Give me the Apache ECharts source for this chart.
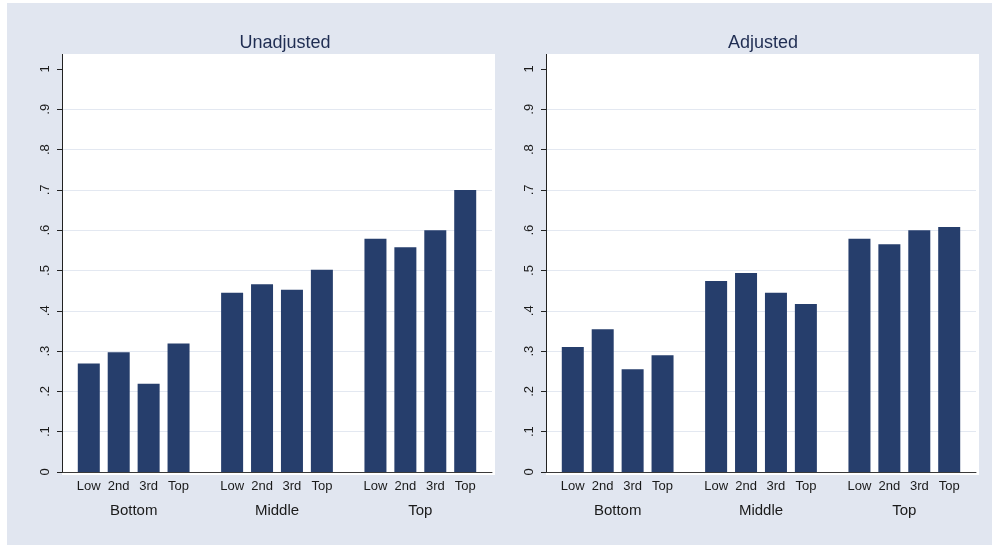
<!DOCTYPE html>
<html>
<head>
<meta charset="utf-8">
<script src="https://cdn.jsdelivr.net/npm/echarts@6/dist/echarts.min.js"></script>
<style>
  html, body { margin: 0; padding: 0; background: #ffffff; }
  #chart { width: 992px; height: 546px; }
</style>
</head>
<body>
<div id="chart"></div>
<script>
var groups = ['Bottom', 'Middle', 'Top'];
var quartiles = ['Low', '2nd', '3rd', 'Top'];
var yTicks = [0, 0.1, 0.2, 0.3, 0.4, 0.5, 0.6, 0.7, 0.8, 0.9, 1];

// values per quartile, one entry per group (Bottom, Middle, Top)
var unadjLow = [0.269, 0.445, 0.579];
var unadj2nd = [0.297, 0.466, 0.558];
var unadj3rd = [0.219, 0.452, 0.600];
var unadjTop = [0.319, 0.502, 0.700];

var adjLow = [0.310, 0.474, 0.579];
var adj2nd = [0.354, 0.494, 0.565];
var adj3rd = [0.255, 0.445, 0.600];
var adjTop = [0.290, 0.417, 0.608];

var unadjusted = [unadjLow, unadj2nd, unadj3rd, unadjTop];
var adjusted = [adjLow, adj2nd, adj3rd, adjTop];

var chart = echarts.init(document.getElementById('chart'));

var barColor = '#263e6c';
var textFont = 'Liberation Sans, Arial, sans-serif';

function tickLabel(v) {
    if (v === 0) return '0';
    if (Math.abs(v - 1) < 1e-9) return '1';
    return '.' + Math.round(v * 10);
}

function makeSeries(panel, idx) {
    return quartiles.map(function (q, i) {
        return {
            name: q,
            type: 'bar',
            xAxisIndex: idx,
            yAxisIndex: idx,
            barWidth: 22,
            barGap: '36%',
            itemStyle: { color: barColor },
            label: {
                show: true,
                position: 'insideBottom',
                distance: 0,
                offset: [0, 21],
                formatter: q,
                color: '#1a1a1a',
                fontSize: 13,
                fontFamily: textFont
            },
            emphasis: { disabled: true },
            data: panel[i]
        };
    });
}

function xAxisFor(idx) {
    return {
        type: 'category',
        gridIndex: idx,
        data: groups,
        axisLine: { lineStyle: { color: '#3a3a3a', width: 1 } },
        axisTick: { show: false },
        axisLabel: { margin: 31, fontSize: 15, color: '#1a1a1a', fontFamily: textFont }
    };
}

function yAxisFor(idx) {
    return {
        type: 'value',
        gridIndex: idx,
        min: yTicks[0],
        max: yTicks[yTicks.length - 1],
        interval: 0.1,
        axisLine: { show: false },
        axisTick: { show: true, length: 5, lineStyle: { color: '#222' } },
        axisLabel: {
            rotate: 90,
            margin: 10,
            fontSize: 13,
            color: '#1a1a1a',
            fontFamily: textFont,
            formatter: tickLabel
        },
        splitLine: {
            show: true,
            showMinLine: false,
            showMaxLine: false,
            lineStyle: { color: '#e3e8f1', width: 1 }
        }
    };
}

var option = {
    animation: false,
    graphic: [
        { type: 'rect', z: -10, shape: { x: 7, y: 3, width: 985, height: 542 }, style: { fill: '#e1e6f0' } },
        { type: 'rect', z: -9, shape: { x: 62, y: 54, width: 433, height: 421 }, style: { fill: '#ffffff' } },
        { type: 'rect', z: -9, shape: { x: 546, y: 54, width: 433, height: 421 }, style: { fill: '#ffffff' } },
        { type: 'line', z: 10, shape: { x1: 62.5, y1: 54, x2: 62.5, y2: 472 }, style: { stroke: '#222', lineWidth: 1 } },
        { type: 'line', z: 10, shape: { x1: 546.5, y1: 54, x2: 546.5, y2: 472 }, style: { stroke: '#222', lineWidth: 1 } }
    ],
    title: [
        { text: 'Unadjusted', left: 280, top: 29, textAlign: 'center',
          textStyle: { fontSize: 18, fontWeight: 'normal', color: '#1f2d52', fontFamily: textFont } },
        { text: 'Adjusted', left: 758, top: 29, textAlign: 'center',
          textStyle: { fontSize: 18, fontWeight: 'normal', color: '#1f2d52', fontFamily: textFont } }
    ],
    grid: [
        { left: 62, top: 69, width: 430, height: 403 },
        { left: 546, top: 69, width: 430, height: 403 }
    ],
    xAxis: [xAxisFor(0), xAxisFor(1)],
    yAxis: [yAxisFor(0), yAxisFor(1)],
    series: makeSeries(unadjusted, 0).concat(makeSeries(adjusted, 1))
};

chart.setOption(option);
</script>
</body>
</html>
